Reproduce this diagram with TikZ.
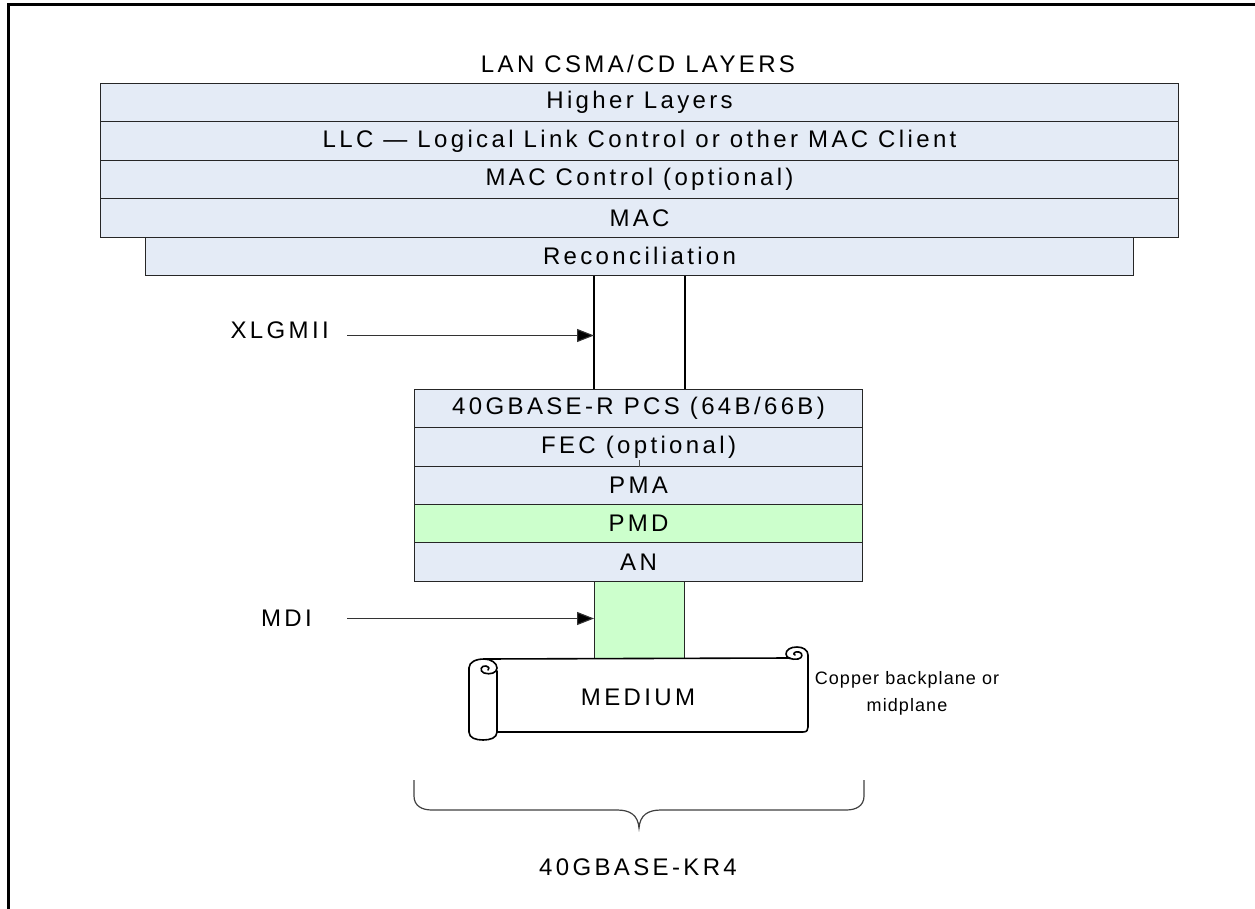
\documentclass[tikz,border=0pt]{standalone}
\usepackage{fontspec}
\newfontfamily\diafont{Liberation Sans}[LetterSpace=14]
\newfontfamily\smallfont{Liberation Sans}[LetterSpace=6]
\usetikzlibrary{arrows.meta}
\definecolor{layerblue}{RGB}{228,235,246}
\definecolor{layergreen}{RGB}{204,255,204}
\begin{document}
\begin{tikzpicture}[x=1pt,y=-1pt,
  font=\diafont\fontsize{24}{28}\selectfont,
  layer/.style={draw=black!85, line width=1.1pt, fill=layerblue, anchor=north west,
    inner sep=0pt, minimum height=38.4pt},
  greenlayer/.style={layer, fill=layergreen},
  conn/.style={draw=black, line width=1.3pt},
  arrowline/.style={draw=black!80, line width=1.1pt, -{Triangle[length=17pt,width=13pt,fill=black]}},
  scroll/.style={draw=black, line width=1.6pt, line cap=round, line join=round},
  bracestyle/.style={draw=black!75, line width=1.2pt},
  lbl/.style={inner sep=0pt}
]
\useasboundingbox (0,0) rectangle (1255,909);
% frame
\draw[line width=2.8pt] (8.7,909) -- (8.7,4.5) -- (1255,4.5);

% title
\node[lbl] (title) at (638,64) {LAN CSMA/CD LAYERS};

% upper stack
\node[layer, minimum width=1078pt] (hl)   at (100,83)    {Higher Layers};
\node[layer, minimum width=1078pt] (llc)  at (100,121.4) {LLC — Logical Link Control or other MAC Client};
\node[layer, minimum width=1078pt] (macc) at (100,159.8) {MAC Control (optional)};
\node[layer, minimum width=1078pt] (mac)  at (100,198.2) {MAC};
\node[layer, minimum width=988pt]  (rec)  at (145,236.6) {Reconciliation};

% lower stack
\node[layer, minimum width=448pt, minimum height=38.3pt] (pcs) at (414,389)   {40GBASE-R PCS (64B/66B)};
\node[layer, minimum width=448pt, minimum height=38.3pt] (fec) at (414,427.3) {FEC (optional)};
\node[layer, minimum width=448pt, minimum height=38.3pt] (pma) at (414,465.6) {PMA};
\node[greenlayer, minimum width=448pt, minimum height=38.3pt] (pmd) at (414,503.9) {PMD};
\node[layer, minimum width=448pt, minimum height=38.3pt] (an)  at (414,542.2) {AN};

% MDI green box
\node[greenlayer, minimum width=90pt, minimum height=77.5pt] (mdibox) at (594,580.5) {};

% small tick in FEC
\draw[black!70, line width=0.8pt] (639,460) -- (fec.south -| 639,0);

% XLGMII vertical lines
\draw[conn] (rec.south -| mdibox.west) -- (pcs.north -| mdibox.west);
\draw[conn] (rec.south -| mdibox.east) -- (pcs.north -| mdibox.east);

% labels with arrows
\node[lbl, anchor=east] (xlgmii) at (329,330) {XLGMII};
\coordinate (xla) at (347,335.5);
\draw[arrowline] (xla) -- (xla -| mdibox.west);

\node[lbl, anchor=east] (mdi) at (312,618.5) {MDI};
\coordinate (mdia) at (347,618.5);
\draw[arrowline] (mdia) -- (mdia -| mdibox.west);

% medium scroll
\draw[scroll] (497,671) -- (497,732);
\draw[scroll] (469,668) -- (469,732) .. controls (469,738) and (476,740) .. (483,740)
  .. controls (490,740) and (497,738) .. (497,732);
\draw[scroll] (469,668) .. controls (469,662) and (476,659) .. (484,659)
  .. controls (491,659) and (497,663) .. (497,668)
  .. controls (497,673) and (490,675) .. (484,673)
  .. controls (479,671) and (481,665) .. (486,666)
  .. controls (489,667) and (490,669) .. (488,670);
\draw[scroll] (484,659) -- (790,658);
\draw[scroll] (497,732) -- (803,732) .. controls (807,732) and (808,730) .. (808,727)
  -- (808,655)
  .. controls (808,650) and (803,647) .. (797,647)
  .. controls (790,647) and (786,650) .. (786,654)
  .. controls (786,658) and (792,660) .. (798,659)
  .. controls (803,658) and (803,653) .. (799,652)
  .. controls (795,651) and (792,654) .. (795,655);
\node[lbl] (medium) at (638,697) {MEDIUM};
\node[lbl, align=center, font=\smallfont\fontsize{18}{27}\selectfont] (copper) at (907,693)
  {Copper backplane or\\midplane};

% brace
\draw[bracestyle] (414,780) -- (414,796) .. controls (414,806) and (422,810) .. (432,810)
  -- (617,810) .. controls (630,810) and (638,815) .. (639,828)
  .. controls (640,815) and (648,810) .. (661,810)
  -- (846,810) .. controls (856,810) and (864,806) .. (864,796) -- (864,780);
\node[lbl] (kr4) at (638,867) {40GBASE-KR4};
\end{tikzpicture}
\end{document}
